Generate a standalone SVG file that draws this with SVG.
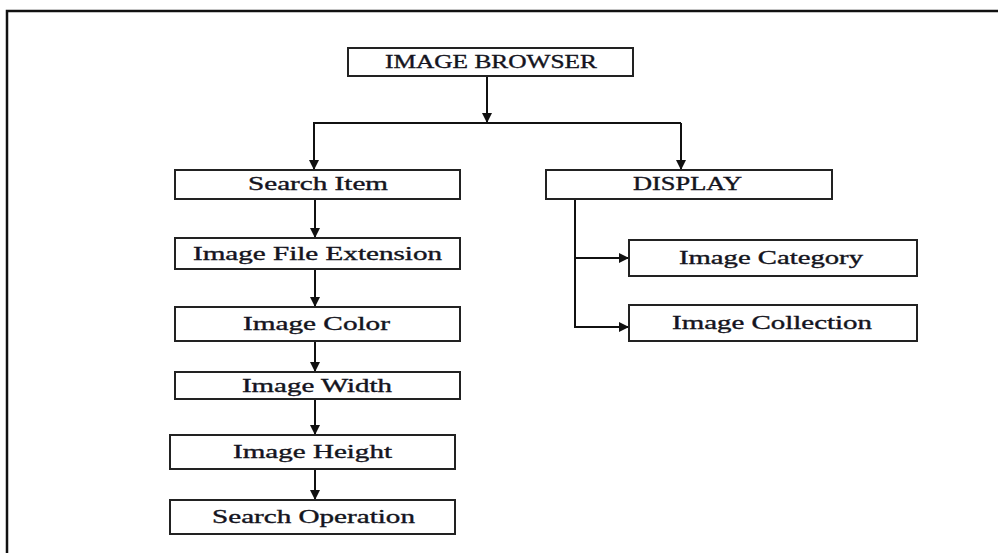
<svg xmlns="http://www.w3.org/2000/svg" width="998" height="553" viewBox="0 0 998 553">
<style>
.box{fill:#fff;stroke:#222;stroke-width:2}
.lbl{font-family:"Liberation Serif","Times New Roman",serif;font-size:18px;fill:#141420;stroke:#141420;stroke-width:0.35;text-anchor:middle}
.con{fill:none;stroke:#111;stroke-width:2}
.frame{fill:none;stroke:#111;stroke-width:2.5}
</style>
<defs>
<marker id="ah" markerUnits="userSpaceOnUse" markerWidth="12" markerHeight="12" refX="10" refY="5" orient="auto">
<path d="M0,0 L10,5 L0,10 Z" fill="#111"/>
</marker>
</defs>
<path class="frame" d="M7,553 L7,11 L998,11"/>
<g id="connectors">
<line class="con" x1="487" y1="76" x2="487" y2="123" marker-end="url(#ah)"/>
<line class="con" x1="313" y1="123" x2="681" y2="123"/>
<line class="con" x1="314" y1="123" x2="314" y2="170" marker-end="url(#ah)"/>
<line class="con" x1="681" y1="123" x2="681" y2="170" marker-end="url(#ah)"/>
<line class="con" x1="315" y1="199" x2="315" y2="238" marker-end="url(#ah)"/>
<line class="con" x1="315" y1="269" x2="315" y2="307" marker-end="url(#ah)"/>
<line class="con" x1="315" y1="341" x2="315" y2="372" marker-end="url(#ah)"/>
<line class="con" x1="315" y1="399" x2="315" y2="435" marker-end="url(#ah)"/>
<line class="con" x1="315" y1="469" x2="315" y2="500" marker-end="url(#ah)"/>
<polyline class="con" points="575,199 575,327 629,327" marker-end="url(#ah)"/>
<line class="con" x1="575" y1="258" x2="629" y2="258" marker-end="url(#ah)"/>
</g>
<g id="image-browser">
<rect class="box" x="348" y="48" width="285" height="28"/>
<text class="lbl" x="491" y="68" textLength="212" lengthAdjust="spacingAndGlyphs">IMAGE BROWSER</text>
</g>
<g id="search-item">
<rect class="box" x="175" y="170" width="285" height="29"/>
<text class="lbl" x="318" y="190" textLength="140" lengthAdjust="spacingAndGlyphs">Search Item</text>
</g>
<g id="image-file-extension">
<rect class="box" x="175" y="238" width="285" height="31"/>
<text class="lbl" x="317.5" y="259.5" textLength="249" lengthAdjust="spacingAndGlyphs">Image File Extension</text>
</g>
<g id="image-color">
<rect class="box" x="175" y="307" width="285" height="34"/>
<text class="lbl" x="316.5" y="330" textLength="147" lengthAdjust="spacingAndGlyphs">Image Color</text>
</g>
<g id="image-width">
<rect class="box" x="175" y="372" width="285" height="27"/>
<text class="lbl" x="317" y="391.5" textLength="150" lengthAdjust="spacingAndGlyphs">Image Width</text>
</g>
<g id="image-height">
<rect class="box" x="170" y="435" width="285" height="34"/>
<text class="lbl" x="312.5" y="458" textLength="159" lengthAdjust="spacingAndGlyphs">Image Height</text>
</g>
<g id="search-operation">
<rect class="box" x="170" y="500" width="285" height="34"/>
<text class="lbl" x="313.5" y="523" textLength="203" lengthAdjust="spacingAndGlyphs">Search Operation</text>
</g>
<g id="display">
<rect class="box" x="546" y="170" width="286" height="29"/>
<text class="lbl" x="687.5" y="190" textLength="109" lengthAdjust="spacingAndGlyphs">DISPLAY</text>
</g>
<g id="image-category">
<rect class="box" x="629" y="240" width="288" height="36"/>
<text class="lbl" x="771" y="264" textLength="184" lengthAdjust="spacingAndGlyphs">Image Category</text>
</g>
<g id="image-collection">
<rect class="box" x="629" y="305" width="288" height="36"/>
<text class="lbl" x="772" y="329" textLength="200" lengthAdjust="spacingAndGlyphs">Image Collection</text>
</g>
</svg>
